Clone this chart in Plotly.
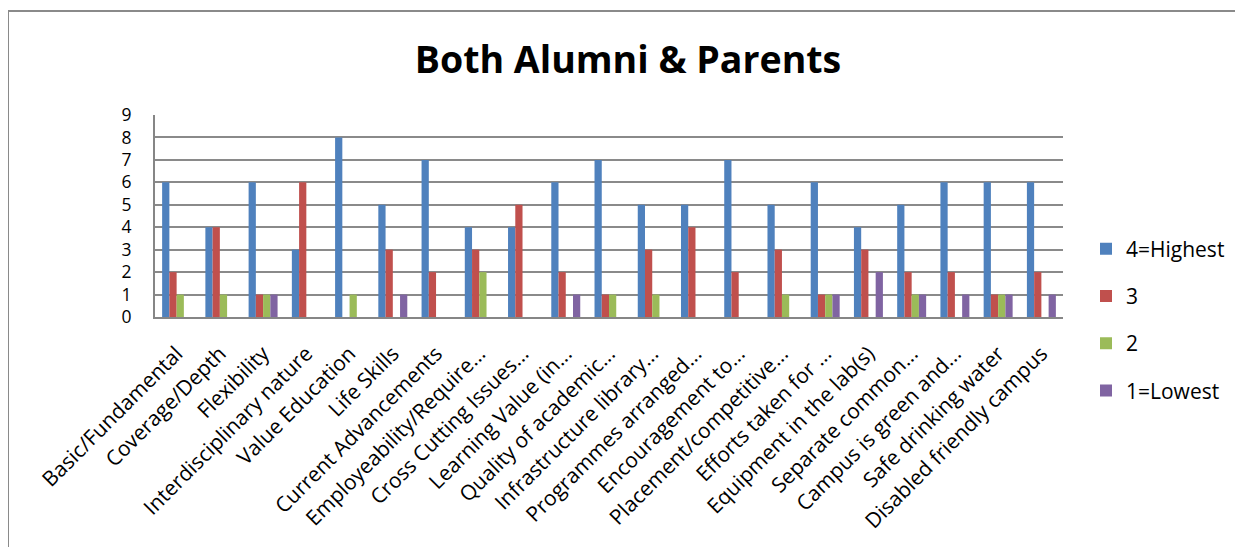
import plotly.graph_objects as go

categories = [
    "Basic/Fundamental", "Coverage/Depth", "Flexibility", "Interdisciplinary nature",
    "Value Education", "Life Skills", "Current Advancements", "Employeability/Require...",
    "Cross Cutting Issues...", "Learning Value (in...", "Quality of academic...",
    "Infrastructure library...", "Programmes arranged...", "Encouragement to...",
    "Placement/competitive...", "Efforts taken for ...", "Equipment in the lab(s)",
    "Separate common...", "Campus is green and...", "Safe drinking water",
    "Disabled friendly campus",
]
highest = [6, 4, 6, 3, 8, 5, 7, 4, 4, 6, 7, 5, 5, 7, 5, 6, 4, 5, 6, 6, 6]
three   = [2, 4, 1, 6, 0, 3, 2, 3, 5, 2, 1, 3, 4, 2, 3, 1, 3, 2, 2, 1, 2]
two     = [1, 1, 1, 0, 1, 0, 0, 2, 0, 0, 1, 1, 0, 0, 1, 1, 0, 1, 0, 1, 0]
lowest  = [0, 0, 1, 0, 0, 1, 0, 0, 0, 1, 0, 0, 0, 0, 0, 1, 2, 1, 1, 1, 1]

series = [
    ("4=Highest", highest, "#4F81BD"),
    ("3", three, "#C0504D"),
    ("2", two, "#9BBB59"),
    ("1=Lowest", lowest, "#8064A2"),
]

fig = go.Figure()
for name, vals, color in series:
    fig.add_trace(go.Bar(x=categories, y=vals, name=name, legendgroup=name,
                         marker=dict(color=color, line=dict(width=0))))

# page has an 8px body margin; figure is sized/offset to compensate
W, H = 1235, 539
L, R, T, B = 147, 180, 107, 230
ph = H - T - B
pw = W - L - R
fig.update_layout(
    width=W, height=H,
    paper_bgcolor="white", plot_bgcolor="white",
    margin=dict(l=L, r=R, t=T, b=B, autoexpand=False),
    barmode="group", bargap=0.33, bargroupgap=0,
    font=dict(family="Open Sans, Liberation Sans, sans-serif", color="black"),
    title=dict(text="<b>Both Alumni &amp; Parents</b>", x=(628 - 8) / W, xanchor="center",
               y=1 - (60 - 8) / H, yanchor="middle",
               font=dict(size=37.5, family="Open Sans, sans-serif", color="black")),
    legend=dict(x=(1086 - 8 - L) / pw, y=(T + ph - 312) / ph, xanchor="left",
                yanchor="middle", yref="paper",
                font=dict(size=21), itemsizing="constant",
                tracegroupgap=17, itemwidth=30, traceorder="grouped"),
    xaxis=dict(tickangle=-45, tickfont=dict(size=21), showline=True,
               linecolor="#868686", linewidth=2, ticks="", showgrid=False,
               automargin=False, ticklabelstandoff=14),
    yaxis=dict(range=[0, 9], dtick=1, tickfont=dict(size=17.5), showline=True,
               linecolor="#868686", linewidth=2, gridcolor="#8a8a8a", gridwidth=2,
               ticks="", zeroline=False, automargin=False, ticklabelstandoff=18),
    shapes=[
        dict(type="line", xref="paper", yref="paper", x0=(0 - L) / pw, x1=1.3,
             y0=(ph + T - 3) / ph, y1=(ph + T - 3) / ph,
             line=dict(color="#8a8a8a", width=2)),
        dict(type="line", xref="paper", yref="paper", x0=(0 - L) / pw, x1=(0 - L) / pw,
             y0=(ph + T - 3) / ph, y1=-1.3,
             line=dict(color="#8a8a8a", width=2)),
    ],
)

fig.write_html("out.html")
